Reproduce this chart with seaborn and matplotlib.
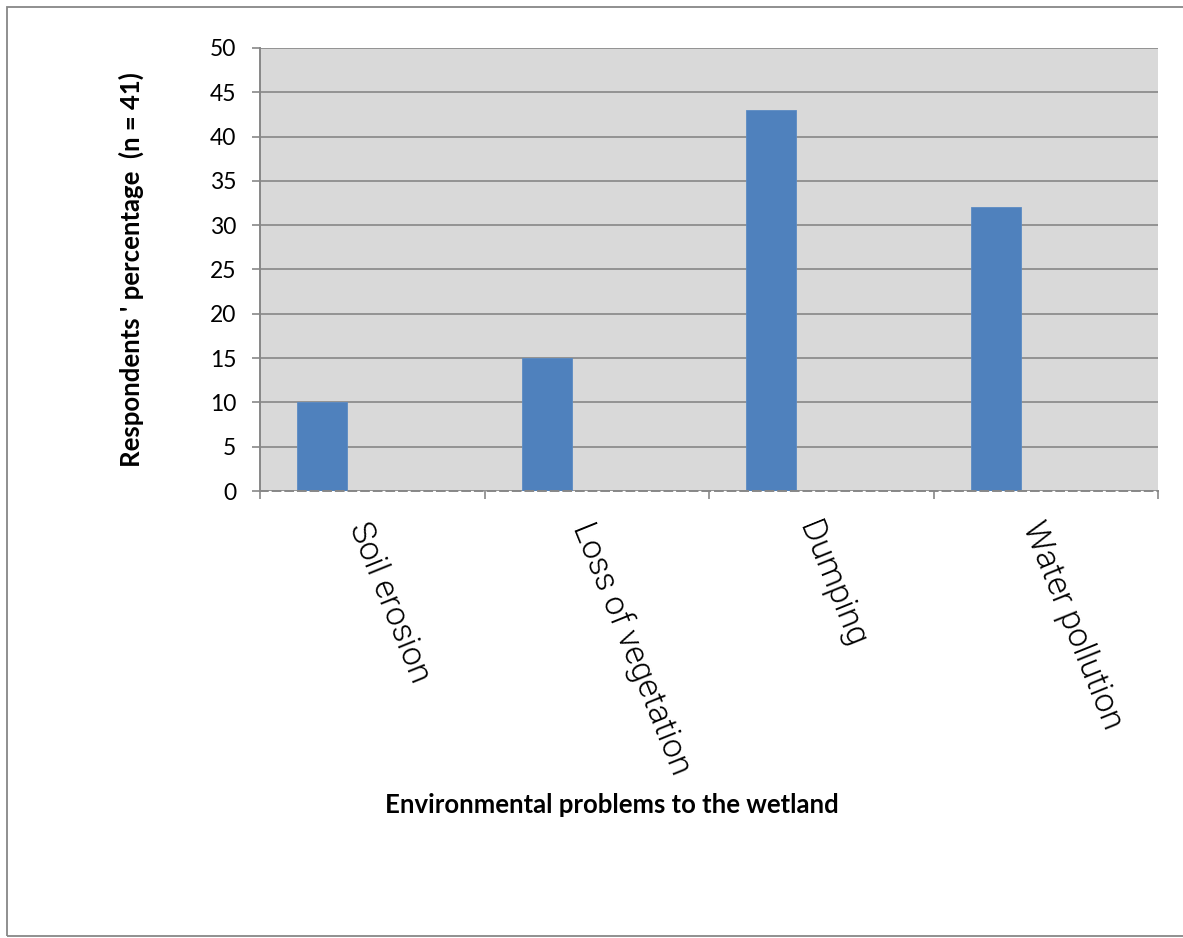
import numpy as np
import pandas as pd
import matplotlib
matplotlib.use("Agg")
import matplotlib.pyplot as plt
from matplotlib.patches import Rectangle
import seaborn as sns

# Survey results
categories = ["Soil erosion", "Loss of vegetation", "Dumping", "Water pollution"]
percentages = [10, 15, 43, 32]
series_names = ["Series1", "Series2", "Series3"]  # clustered layout, only first series has values
y_ticks = list(range(0, 51, 5))

x_title = "Environmental problems to the wetland"
y_title = "Respondents ' percentage  (n = 41)"

df = pd.DataFrame({"problem": categories, "pct": percentages, "series": series_names[0]})

sns.set_theme(style="white")
plt.rcParams["font.family"] = ["Lato", "DejaVu Sans"]
plt.rcParams["text.color"] = "black"

W, H = 1183, 938
fig = plt.figure(figsize=(W / 100, H / 100), dpi=100)
ax = fig.add_axes([260 / W, 1 - 491 / H, (1158 - 260) / W, (491 - 48) / H])

grid_c = "#878787"
ax.set_facecolor("#d9d9d9")

sns.barplot(data=df, x="problem", y="pct", hue="series", hue_order=series_names,
            order=categories, palette=["#4f81bd", "#c0504d", "#9bbb59"],
            width=0.667, dodge=True, legend=False, ax=ax, saturation=1,
            edgecolor="#5b8bc4", linewidth=0.6, zorder=3)

ax.set_xlim(-0.5, len(categories) - 0.5)
ax.set_ylim(0, 50)
ax.set_yticks(y_ticks)
ax.set_yticklabels([str(t) for t in y_ticks], fontsize=16.5, color="black")
ax.yaxis.grid(True, color=grid_c, linewidth=1.2, zorder=1)
ax.set_axisbelow(True)
ax.tick_params(axis="y", which="major", direction="out", length=6, width=1.2,
               color=grid_c, pad=11, left=True)

# category labels at centres, tick marks on category boundaries
ax.set_xticks(np.arange(len(categories)))
ax.set_xticklabels(categories, rotation=-68, ha="left", va="top",
                   rotation_mode="anchor", fontsize=24, color="black",
                   family=["Roboto", "DejaVu Sans"], fontweight=300)
ax.tick_params(axis="x", which="major", length=0, pad=19)
ax.set_xticks(np.arange(-0.5, len(categories)), minor=True)
ax.tick_params(axis="x", which="minor", direction="out", length=6, width=1.2,
               color=grid_c, bottom=True)

ax.set_xlabel("")
ax.set_ylabel("")

for s in ["top", "right"]:
    ax.spines[s].set_visible(False)
ax.spines["left"].set_color(grid_c)
ax.spines["left"].set_linewidth(1.4)
ax.spines["bottom"].set_color(grid_c)
ax.spines["bottom"].set_linewidth(1.4)
ax.spines["bottom"].set_linestyle((0, (4, 2.5)))
ax.spines["bottom"].set_zorder(4)

fig.text(612 / W, 1 - 805 / H, x_title, ha="center", va="center",
         fontsize=18.5, fontweight="bold", color="black")
fig.text(131 / W, 1 - 270 / H, y_title, ha="center", va="center",
         rotation=90, fontsize=18.5, fontweight="bold", color="black")

# outer chart border
fig.patches.append(Rectangle((7 / W, 2 / H), 1.1, 1 - 9 / H, transform=fig.transFigure,
                             fill=False, edgecolor=grid_c, linewidth=1.3))

fig.savefig("out.png", dpi=100)
